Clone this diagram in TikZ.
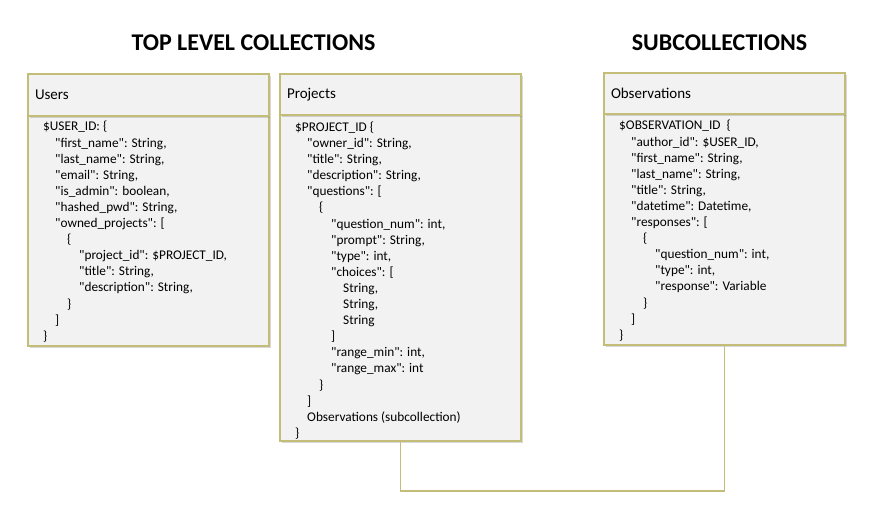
\documentclass[tikz,border=0pt]{standalone}
\usepackage{fontspec}
\setmainfont{Carlito}[Ligatures=TeXOff]
\usetikzlibrary{shadows}
\definecolor{bord}{RGB}{196,189,120}
\definecolor{boxfill}{RGB}{242,242,242}
\newlength\indstep
\setlength\indstep{12pt}
\newcommand{\ind}[1]{\hspace*{#1\indstep}}
\tikzset{
  box/.style={draw=bord, line width=2pt, fill=boxfill, rectangle, inner sep=0pt,
    anchor=north west, minimum width=241pt,
    drop shadow={shadow xshift=1.5pt, shadow yshift=-2.5pt, opacity=0.25, fill=black!60}},
  hdr/.style={box, text width=227pt, inner xsep=7pt, align=left,
    font=\fontsize{15}{18}\selectfont},
  bodytext/.style={anchor=north west, inner sep=0pt, align=left,
    font=\fontsize{13.3}{16.1}\selectfont},
  ttl/.style={anchor=base, font=\fontsize{24}{28}\selectfont\bfseries},
  conn/.style={draw=bord, line width=1.5pt}
}
\begin{document}
\begin{tikzpicture}[x=1pt, y=-1pt]
\useasboundingbox (0,0) rectangle (879,526);

% titles
\node[ttl] (t1) at (253.5,50.5) {TOP LEVEL COLLECTIONS};
\node[ttl] (t2) at (719.5,50.5) {SUBCOLLECTIONS};

% bodies
\node[box, minimum height=230pt] (ub) at (27,115) {};
\node[box, minimum height=326pt] (pb) at (279,114) {};
\node[box, minimum height=231pt] (ob) at (603,113) {};

% headers
\node[hdr, minimum height=42pt] (uh) at (27,73) {Users};
\node[hdr, minimum height=41pt] (ph) at (279,73) {Projects};
\node[hdr, minimum height=41pt] (oh) at (603,72) {Observations};

% connector
\draw[conn] (pb.south) -- ++(0,49) -| (ob.south);

% body texts
\node[bodytext] (ut) at (43,119.5) {\strut\$USER\_ID: \{\\
\ind1"first\_name": String,\\
\ind1"last\_name": String,\\
\ind1"email": String,\\
\ind1"is\_admin": boolean,\\
\ind1"hashed\_pwd": String,\\
\ind1"owned\_projects": [\\
\ind2\{\\
\ind3"project\_id": \$PROJECT\_ID,\\
\ind3"title": String,\\
\ind3"description": String,\\
\ind2\}\\
\ind1]\\
\ind0\}};

\node[bodytext] (pt) at (295,120) {\strut\$PROJECT\_ID \{\\
\ind1"owner\_id": String,\\
\ind1"title": String,\\
\ind1"description": String,\\
\ind1"questions": [\\
\ind2\{\\
\ind3"question\_num": int,\\
\ind3"prompt": String,\\
\ind3"type": int,\\
\ind3"choices": [\\
\ind4String,\\
\ind4String,\\
\ind4String\\
\ind3]\\
\ind3"range\_min": int,\\
\ind3"range\_max": int\\
\ind2\}\\
\ind1]\\
\ind1Observations (subcollection)\\
\ind0\}};

\node[bodytext] (ot) at (619,118.5) {\strut\$OBSERVATION\_ID\ \ \{\\
\ind1"author\_id": \$USER\_ID,\\
\ind1"first\_name": String,\\
\ind1"last\_name": String,\\
\ind1"title": String,\\
\ind1"datetime": Datetime,\\
\ind1"responses": [\\
\ind2\{\\
\ind3"question\_num": int,\\
\ind3"type": int,\\
\ind3"response": Variable\\
\ind2\}\\
\ind1]\\
\ind0\}};
\end{tikzpicture}
\end{document}
